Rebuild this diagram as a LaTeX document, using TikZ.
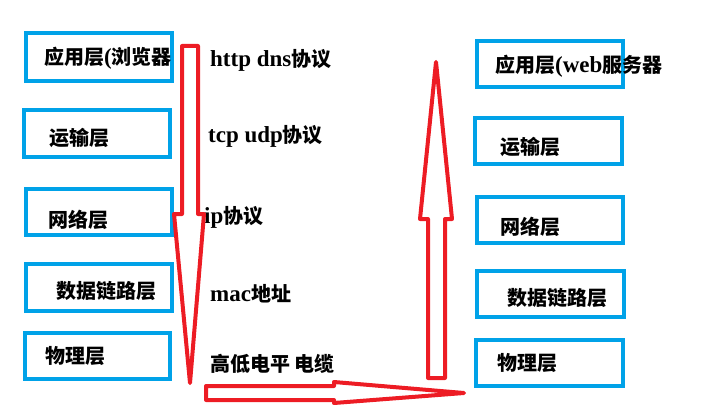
\documentclass[tikz,border=0pt]{standalone}
\usepackage{fontspec}
\setmainfont{Liberation Serif}
\newfontfamily\cjk{Noto Sans CJK SC}
\newcommand\zh[1]{{\cjk\bfseries\fontsize{20}{21}\selectfont #1}}
\newcommand\lat[1]{{\bfseries\fontsize{23}{24}\selectfont #1}}
\definecolor{boxblue}{RGB}{0,162,232}
\definecolor{arrred}{RGB}{237,28,36}
\tikzset{
  layerbox/.style={draw=boxblue, line width=4pt},
  lbl/.style={anchor=west, inner sep=0pt, text=black},
  bigarrow/.style={draw=arrred, line width=4pt, line join=round}
}
\begin{document}
\begin{tikzpicture}[x=1pt,y=-1pt]
\useasboundingbox (0,0) rectangle (711,414);
% left boxes
\draw[layerbox] (26,33) rectangle (172,81) coordinate (lb1);
\draw[layerbox] (24,110) rectangle (170,157) coordinate (lb2);
\draw[layerbox] (26,189) rectangle (172,235) coordinate (lb3);
\draw[layerbox] (26,264) rectangle (172,311) coordinate (lb4);
\draw[layerbox] (25,333) rectangle (170,379) coordinate (lb5);
% right boxes
\draw[layerbox] (477,41) rectangle (623,87) coordinate (rb1);
\draw[layerbox] (475,118) rectangle (622,164) coordinate (rb2);
\draw[layerbox] (477,197) rectangle (623,243) coordinate (rb3);
\draw[layerbox] (477,271) rectangle (624,317) coordinate (rb4);
\draw[layerbox] (476,340) rectangle (623,386) coordinate (rb5);
% left texts
\node[lbl] (lt1) at (44,58) {\zh{应用层}\lat{(}\zh{浏览器}};
\node[lbl] (lt2) at (49,138) {\zh{运输层}};
\node[lbl] (lt3) at (48,220) {\zh{网络层}};
\node[lbl] (lt4) at (56,291) {\zh{数据链路层}};
\node[lbl] (lt5) at (45,356) {\zh{物理层}};
% right texts
\node[lbl] (rt1) at (495,66) {\zh{应用层}\lat{(web}\zh{服务器}};
\node[lbl] (rt2) at (500,147) {\zh{运输层}};
\node[lbl] (rt3) at (500,227) {\zh{网络层}};
\node[lbl] (rt4) at (507,298) {\zh{数据链路层}};
\node[lbl] (rt5) at (497,363) {\zh{物理层}};
% protocol labels
\node[lbl] (p1) at (210,60) {\lat{http dns}\zh{协议}};
\node[lbl] (p2) at (208,136) {\lat{tcp udp}\zh{协议}};
\node[lbl] (p3) at (204,217) {\lat{ip}\zh{协议}};
\node[lbl] (p4) at (210,294) {\lat{mac}\zh{地址}};
\node[lbl] (p5) at (210,364) {\zh{高低电平\ 电缆}};
% arrows
\draw[bigarrow] (182,46) -- (198,46) -- (198,214) -- (204,214) -- (190,383) -- (174,214) -- (182,214) -- cycle;
\draw[bigarrow] (436,62) -- (452,219) -- (445,219) -- (445,378) -- (428,378) -- (428,219) -- (420,219) -- cycle;
\draw[bigarrow] (206,386) -- (334,386) -- (334,382) -- (464,393) -- (334,403) -- (334,400) -- (206,400) -- cycle;
\end{tikzpicture}
\end{document}
